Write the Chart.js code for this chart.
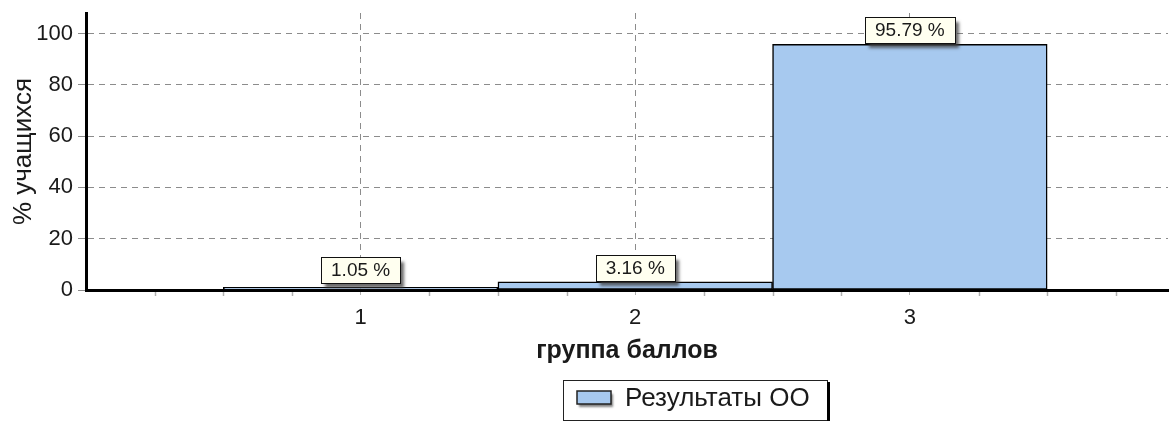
<!DOCTYPE html>
<html>
<head>
<meta charset="utf-8">
<script src="https://cdn.jsdelivr.net/npm/chart.js@4.4.1/dist/chart.umd.min.js"></script>
<style>
  html, body { margin: 0; padding: 0; background: #ffffff; }
  #wrap { width: 1170px; height: 421px; position: relative; }
</style>
</head>
<body>
<div id="wrap"><canvas id="c" width="1170" height="421"></canvas></div>
<script>
// ---- data ----
const categories = [1, 2, 3];
const categoryLabels = ['1', '2', '3'];
const values = [1.05, 3.16, 95.79];
const seriesName = 'Результаты ОО';
const yTicks = [0, 20, 40, 60, 80, 100];
const xTitle = 'группа баллов';
const yTitle = '% учащихся';

const FONT = "'Liberation Sans', Arial, sans-serif";
const BAR_COLOR = '#a7c9ef';

// data labels with cream boxes
const labelPlugin = {
  id: 'valueLabels',
  afterDatasetsDraw(chart) {
    const ctx = chart.ctx;
    const meta = chart.getDatasetMeta(0);
    ctx.save();
    ctx.font = '19px ' + FONT;
    meta.data.forEach((el, i) => {
      const txt = values[i].toFixed(2) + ' %';
      const w = Math.round(ctx.measureText(txt).width + 20);
      const h = 26;
      const bottom = Math.min(el.y - 1, el.base - 7);
      const left = Math.round(el.x - w / 2);
      const top = Math.round(bottom - h);
      ctx.save();
      ctx.shadowColor = 'rgba(60,60,60,0.75)';
      ctx.shadowOffsetX = 4;
      ctx.shadowOffsetY = 5;
      ctx.shadowBlur = 3;
      ctx.fillStyle = '#fffff0';
      ctx.fillRect(left, top, w, h);
      ctx.restore();
      ctx.strokeStyle = '#111';
      ctx.lineWidth = 1;
      ctx.strokeRect(left + 0.5, top + 0.5, w, h);
      ctx.fillStyle = '#1a1a1a';
      ctx.textAlign = 'center';
      ctx.textBaseline = 'middle';
      ctx.fillText(txt, el.x, top + h / 2 + 1);
    });
    ctx.restore();
  }
};

// minor ticks on the x axis (quarter steps), positioned through the scale
const minorTicks = {
  id: 'minorTicks',
  afterDraw(chart) {
    const xs = chart.scales.x;
    const ctx = chart.ctx;
    const y0 = chart.chartArea.bottom + 2;
    ctx.save();
    ctx.strokeStyle = '#b0b0b0';
    ctx.lineWidth = 1.5;
    for (let v = 0.25; v < xs.max; v += 0.25) {
      if (Math.abs(v - Math.round(v)) < 1e-6) continue;
      const px = Math.round(xs.getPixelForValue(v)) + 0.5;
      ctx.beginPath();
      ctx.moveTo(px, y0);
      ctx.lineTo(px, y0 + 4);
      ctx.stroke();
    }
    ctx.restore();
  }
};

// legend box drawn below the axis title
const legendBox = {
  id: 'legendBox',
  afterDraw(chart) {
    const ctx = chart.ctx;
    const ds = chart.data.datasets[0];
    const left = 563, top = 380, right = 827, bottom = 420;
    ctx.save();
    ctx.fillStyle = '#ffffff';
    ctx.fillRect(left, top, right - left, bottom - top);
    ctx.strokeStyle = '#222';
    ctx.lineWidth = 1;
    ctx.strokeRect(left + 0.5, top + 0.5, right - left, bottom - top);
    ctx.fillStyle = '#000';
    ctx.fillRect(right, top + 2, 3, bottom - top + 2);
    // swatch with shadow
    ctx.save();
    ctx.shadowColor = 'rgba(80,80,80,0.7)';
    ctx.shadowOffsetX = 2;
    ctx.shadowOffsetY = 3;
    ctx.shadowBlur = 2;
    ctx.fillStyle = ds.backgroundColor;
    ctx.fillRect(577, 391, 34, 13);
    ctx.restore();
    ctx.strokeStyle = '#222';
    ctx.lineWidth = 1.5;
    ctx.strokeRect(577, 391, 34, 13);
    ctx.fillStyle = '#1a1a1a';
    ctx.font = '26px ' + FONT;
    ctx.textAlign = 'left';
    ctx.textBaseline = 'middle';
    ctx.fillText(ds.label, 625, 399);
    ctx.restore();
  }
};

new Chart(document.getElementById('c'), {
  type: 'bar',
  data: {
    datasets: [{
      label: seriesName,
      data: categories.map((c, i) => ({ x: c, y: values[i] })),
      backgroundColor: BAR_COLOR,
      borderColor: '#000',
      borderWidth: 1.5,
      borderSkipped: false,
      barPercentage: 1,
      categoryPercentage: 1
    }]
  },
  options: {
    responsive: false,
    animation: false,
    events: [],
    layout: { padding: { top: 13, right: 2, left: 0, bottom: 0 } },
    plugins: {
      legend: { display: false },
      tooltip: { enabled: false }
    },
    scales: {
      x: {
        type: 'linear',
        min: 0,
        max: 3.94,
        offset: false,
        afterBuildTicks(scale) {
          scale.ticks = categories.map(v => ({ value: v }));
        },
        afterFit(scale) { scale.height = 131; scale.paddingLeft = 0; scale.paddingRight = 0; },
        ticks: {
          autoSkip: false,
          maxRotation: 0,
          padding: 10,
          color: '#1a1a1a',
          font: { family: FONT, size: 22 },
          callback: (v) => {
            const i = categories.indexOf(v);
            return i >= 0 ? categoryLabels[i] : '';
          }
        },
        grid: {
          offset: false,
          color: '#8c8c8c',
          lineWidth: 1,
          tickLength: 5,
          tickColor: '#b0b0b0',
          drawTicks: true
        },
        border: { display: true, color: '#000', width: 3, dash: [6, 5] },
        title: {
          display: true,
          text: xTitle,
          color: '#1a1a1a',
          font: { family: FONT, size: 25, weight: 'bold' },
          padding: { top: 0, bottom: 55 }
        }
      },
      y: {
        min: 0,
        max: 108,
        afterBuildTicks(scale) {
          scale.ticks = yTicks.map(v => ({ value: v }));
        },
        afterFit(scale) { scale.width = 86; scale.paddingTop = 0; scale.paddingBottom = 0; },
        ticks: {
          padding: 5,
          color: '#1a1a1a',
          font: { family: FONT, size: 22 }
        },
        grid: {
          color: (c) => (c.tick && c.tick.value === 0) ? 'rgba(0,0,0,0)' : '#8c8c8c',
          lineWidth: 1,
          tickLength: 8,
          tickColor: '#8c8c8c'
        },
        border: { display: true, color: '#000', width: 3, dash: [6, 5] },
        title: {
          display: true,
          text: yTitle,
          color: '#1a1a1a',
          font: { family: FONT, size: 26 },
          padding: { top: 8, bottom: 0 }
        }
      }
    }
  },
  plugins: [labelPlugin, minorTicks, legendBox]
});
</script>
</body>
</html>
